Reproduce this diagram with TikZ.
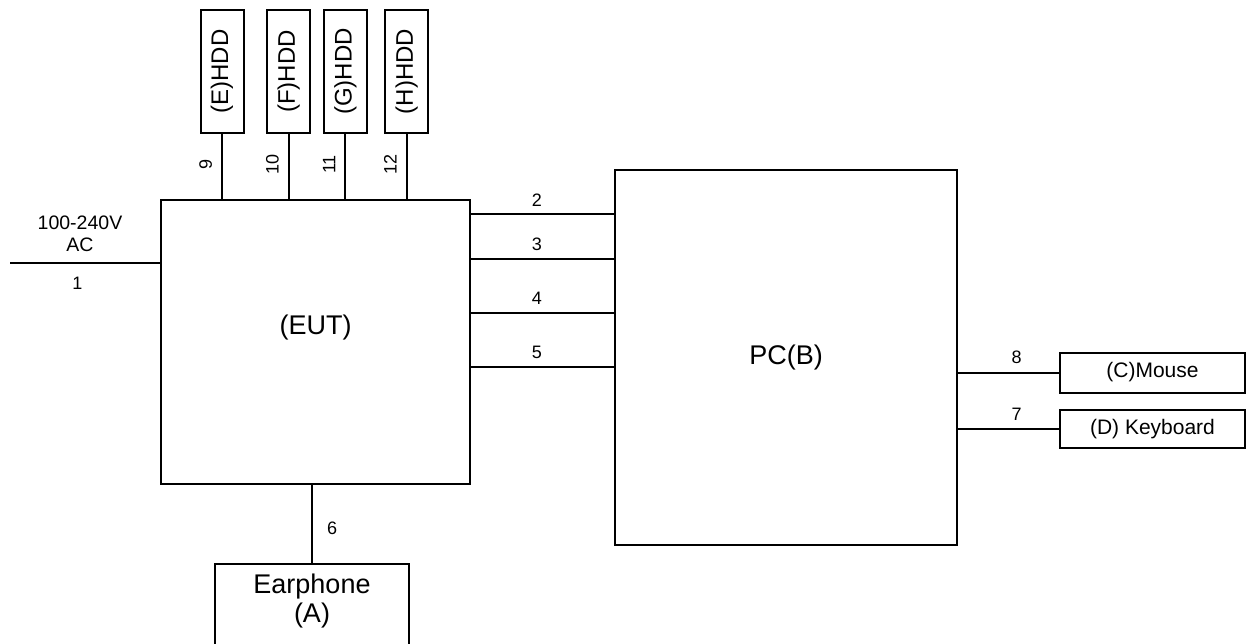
\documentclass[tikz,border=0pt]{standalone}
\usepackage{fontspec}
\setmainfont{Liberation Sans}
\usepackage{tikz}
\tikzset{
  unit/.style={draw, line width=2pt, inner sep=0pt},
  hdd/.style={draw, line width=2pt, inner sep=0pt, minimum width=43, minimum height=123, font=\fontsize{24}{26}\selectfont},
  dev/.style={draw, line width=2pt, inner sep=0pt, minimum width=185, minimum height=40, font=\fontsize{21}{24}\selectfont},
  cable/.style={line width=2pt},
  num/.style={font=\fontsize{18}{20}\selectfont, inner sep=1pt}
}

\begin{document}
\begin{tikzpicture}[x=1pt, y=-1pt]
    \useasboundingbox (0,0) rectangle (1247,643);
    \node[unit, minimum width=309, minimum height=284] (eut) at (315.5,342) {};
    \node[font=\fontsize{27}{30}\selectfont] (euttext) at (315.5,328) {(EUT)};
    \node[unit, minimum width=342, minimum height=375, font=\fontsize{27}{30}\selectfont] (pc) at (786,357.5) {PC(B)};
    \node[hdd] (hdde) at (222,71.5) {\rotatebox{90}{(E)HDD}};
    \node[hdd] (hddf) at (288.7,71.5) {\rotatebox{90}{(F)HDD}};
    \node[hdd] (hddg) at (345.3,71.5) {\rotatebox{90}{(G)HDD}};
    \node[hdd] (hddh) at (406.7,71.5) {\rotatebox{90}{(H)HDD}};
    \node[dev] (mouse) at (1152.5,372.5) {(C)Mouse};
    \node[dev, minimum height=38] (kbd) at (1152.5,429) {(D) Keyboard};
    \node[unit, minimum width=194, minimum height=110, anchor=north] (ear) at (312,563) {};
    \node[align=center, font=\fontsize{27}{29}\selectfont] (eartext) at (312,601) {Earphone\\(A)};
    \coordinate (ac) at (10,263.3);
    \node[align=center, font=\fontsize{19.5}{22}\selectfont] (actext) at (80,234) {100-240V\\AC};
    \draw[cable] (ac) -- node[num, pos=0.45, below=12pt] {1} (ac -| eut.west);
    \draw[cable] (hdde.south) -- node[num, rotate=90, anchor=south, xshift=2pt, yshift=8pt] {9} (hdde.south |- eut.north);
    \draw[cable] (hddf.south) -- node[num, rotate=90, anchor=south, xshift=2pt, yshift=8pt] {10} (hddf.south |- eut.north);
    \draw[cable] (hddg.south) -- node[num, rotate=90, anchor=south, xshift=2pt, yshift=8pt] {11} (hddg.south |- eut.north);
    \draw[cable] (hddh.south) -- node[num, rotate=90, anchor=south, xshift=2pt, yshift=8pt] {12} (hddh.south |- eut.north);
    \foreach \n/\y in {2/214, 3/258.7, 4/312.7, 5/366.7}
      \draw[cable] (eut.east |- 0,\y) -- node[num, pos=0.46, above=6pt] {\n} (pc.west |- 0,\y);
    \draw[cable] (pc.east |- mouse.west) -- node[num, pos=0.58, above=7pt] {8} (mouse.west);
    \draw[cable] (pc.east |- kbd.west) -- node[num, pos=0.58, above=7pt] {7} (kbd.west);
    \draw[cable] (eut.south -| ear.north) -- node[num, right=13pt, yshift=-4pt] {6} (ear.north);
  \end{tikzpicture}
\end{document}
